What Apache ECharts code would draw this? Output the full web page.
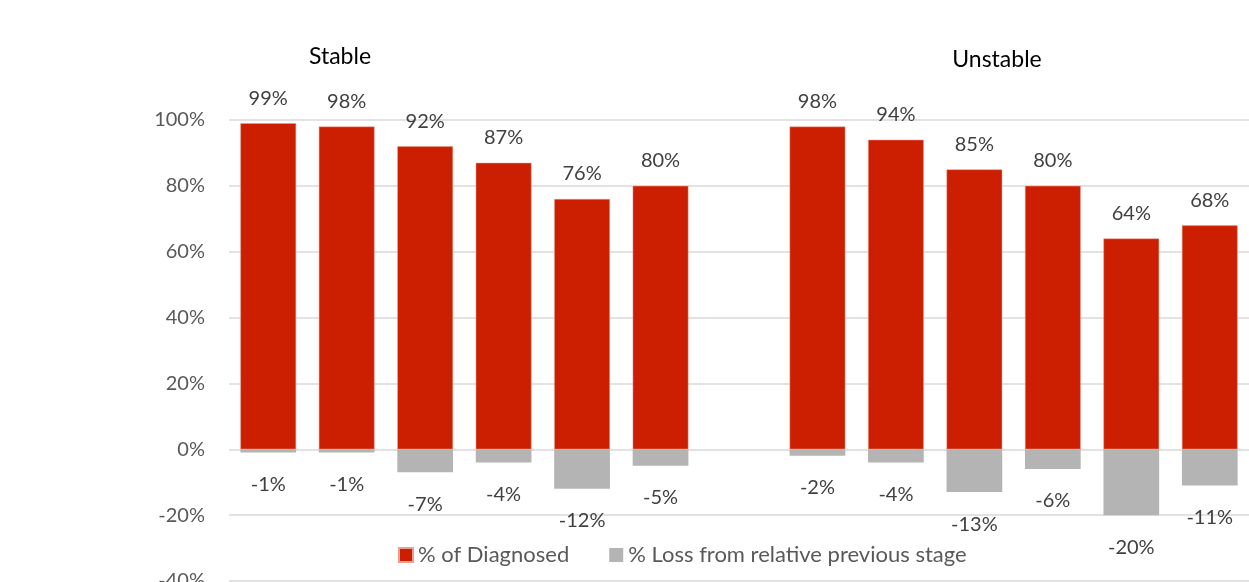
<!DOCTYPE html>
<html>
<head>
<meta charset="utf-8">
<script src="https://cdn.jsdelivr.net/npm/echarts@6/dist/echarts.min.js"></script>
<style>
html,body{margin:0;padding:0;background:#fff;}
#chart{width:1249px;height:582px;}
</style>
</head>
<body>
<div id="chart"></div>
<script>
const groupLabels = ['Stable', 'Unstable'];
const stages = ['Stage 1', 'Stage 2', 'Stage 3', 'Stage 4', 'Stage 5', 'Stage 6'];
const stableDiagnosed = [99, 98, 92, 87, 76, 80];
const stableLoss = [-1, -1, -7, -4, -12, -5];
const unstableDiagnosed = [98, 94, 85, 80, 64, 68];
const unstableLoss = [-2, -4, -13, -6, -20, -11];
const yTicks = [-40, -20, 0, 20, 40, 60, 80, 100];
const seriesNames = ['% of Diagnosed', '% Loss from relative previous stage'];

const categories = stages.map(s => 'Stable ' + s)
  .concat([' '])
  .concat(stages.map(s => 'Unstable ' + s));
const diagData = stableDiagnosed.concat(['-']).concat(unstableDiagnosed);
const lossData = stableLoss.concat(['-']).concat(unstableLoss);

const FONT = 'Lato';
const chart = echarts.init(document.getElementById('chart'));
chart.setOption({
  backgroundColor: '#ffffff',
  animation: false,
  textStyle: { fontFamily: FONT },
  grid: { left: 229, right: 0, top: 120, bottom: 1, containLabel: false, outerBoundsMode: 'none' },
  legend: {
    left: 393, top: 539,
    itemWidth: 14, itemHeight: 14, itemGap: 40,
    icon: 'rect',
    textStyle: { fontFamily: FONT, fontSize: 22, color: '#595959' },
    data: seriesNames
  },
  xAxis: {
    type: 'category',
    data: categories,
    axisLine: { show: false },
    axisTick: { show: false },
    axisLabel: { show: false },
    splitLine: { show: false }
  },
  yAxis: {
    type: 'value',
    min: yTicks[0], max: yTicks[yTicks.length - 1], interval: 20,
    axisLine: { show: false },
    axisTick: { show: false },
    axisLabel: { formatter: '{value}%', fontFamily: FONT, fontSize: 20, color: '#595959', margin: 24 },
    splitLine: { lineStyle: { color: '#d9d9d9', width: 1.5 } }
  },
  graphic: [
    { type: 'text', position: [340, 57], style: { text: groupLabels[0], fontFamily: FONT, fontSize: 23, fill: '#000000', textAlign: 'center', textVerticalAlign: 'middle' } },
    { type: 'text', position: [997, 60], style: { text: groupLabels[1], fontFamily: FONT, fontSize: 23, fill: '#000000', textAlign: 'center', textVerticalAlign: 'middle' } }
  ],
  series: [
    {
      name: seriesNames[0], type: 'bar', stack: 'total', data: diagData,
      barWidth: '71%',
      itemStyle: { color: '#cc1e00', borderColor: '#e8a090', borderWidth: 0.5 },
      label: { show: true, position: 'top', distance: 15, formatter: p => p.value + '%', fontFamily: FONT, fontSize: 20, color: '#404040' }
    },
    {
      name: seriesNames[1], type: 'bar', stack: 'total', data: lossData,
      barWidth: '71%',
      itemStyle: { color: '#b4b4b4' },
      label: { show: true, position: 'bottom', distance: 22, formatter: p => p.value + '%', fontFamily: FONT, fontSize: 20, color: '#404040' }
    }
  ]
});
</script>
</body>
</html>
